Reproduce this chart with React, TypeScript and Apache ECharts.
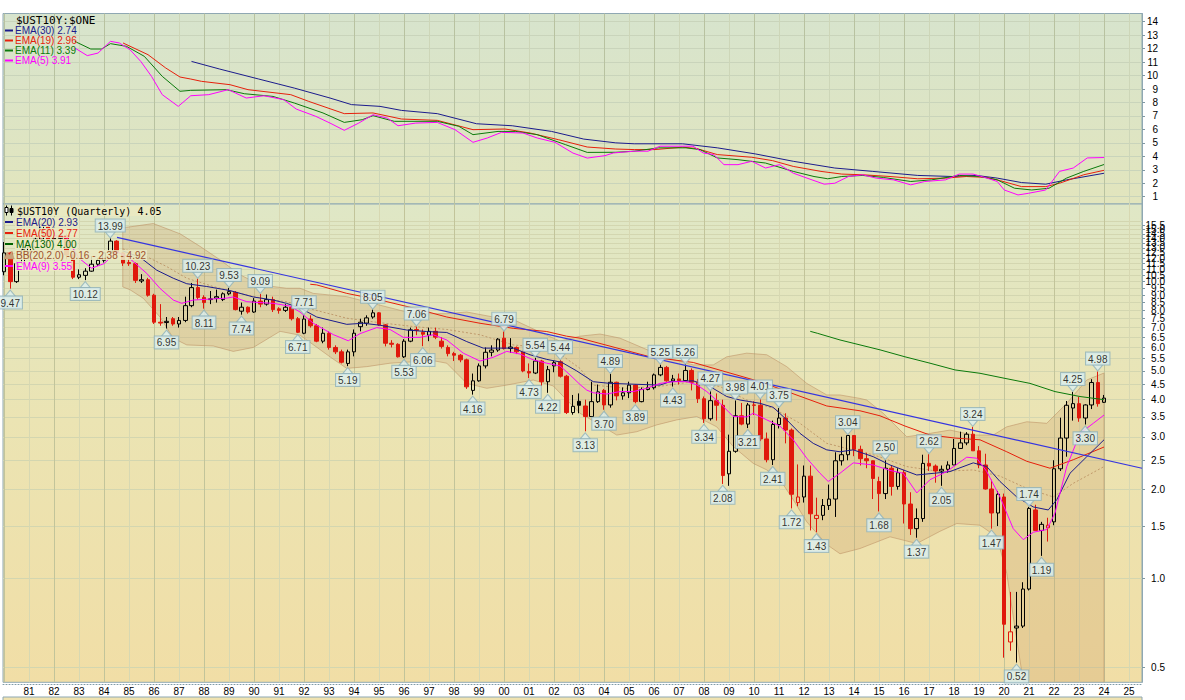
import React, { useEffect, useRef } from 'react';
import * as echarts from 'echarts';

// ---------------- data ----------------
const FIRST_YEAR = 1980; // first candle = 1980 Q1, one candle per quarter
const X_MIN = 1979.96;
const X_MAX = 2025.52;

// [open, close, low, high]
const quarterlyOHLC: number[][] = [
  [10.80, 12.50, 10.50, 13.60], [12.50, 10.00, 9.47, 12.60], [10.00, 11.50, 9.90, 11.70], [11.50, 12.80, 11.40, 13.10],
  [12.60, 13.10, 11.90, 13.30], [13.10, 13.90, 12.90, 14.20], [13.90, 15.60, 13.80, 15.84], [15.60, 13.90, 13.10, 15.80],
  [13.90, 14.00, 13.60, 14.80], [14.00, 14.30, 13.30, 14.60], [14.30, 12.30, 11.90, 14.50], [12.30, 10.35, 10.20, 12.40],
  [10.35, 10.55, 10.20, 11.00], [10.50, 10.85, 10.12, 11.10], [10.85, 11.45, 10.80, 12.20], [11.45, 11.80, 11.30, 12.00],
  [11.80, 12.50, 11.60, 12.60], [12.60, 13.70, 12.40, 13.99], [13.70, 12.50, 12.30, 13.80], [12.50, 11.55, 11.30, 12.60],
  [11.60, 11.50, 11.30, 12.00], [11.50, 10.10, 9.90, 11.60], [10.05, 10.15, 9.90, 10.60], [10.15, 9.00, 8.90, 10.30],
  [9.00, 7.30, 7.20, 9.10], [7.30, 7.25, 7.10, 8.40], [7.28, 7.35, 6.95, 7.60], [7.50, 7.20, 7.10, 7.60],
  [7.20, 7.40, 7.00, 7.60], [7.40, 8.30, 7.30, 8.90], [8.30, 9.55, 8.20, 9.90], [9.55, 8.85, 8.70, 10.23],
  [8.85, 8.50, 8.11, 9.00], [8.70, 8.75, 8.40, 9.30], [8.80, 8.90, 8.50, 9.40], [8.70, 9.10, 8.60, 9.20],
  [9.10, 9.25, 9.00, 9.53], [9.20, 8.05, 8.00, 9.30], [7.95, 8.20, 7.74, 8.50], [8.20, 7.90, 7.80, 8.25],
  [7.90, 8.60, 7.85, 8.80], [8.60, 8.40, 8.20, 9.09], [8.40, 8.70, 8.30, 9.05], [8.70, 8.05, 7.90, 8.90],
  [8.10, 8.00, 7.80, 8.20], [8.00, 8.20, 7.90, 8.40], [8.20, 7.50, 7.40, 8.30], [7.50, 6.75, 6.71, 7.60],
  [6.70, 7.48, 6.65, 7.71], [7.48, 7.10, 7.00, 7.70], [7.10, 6.30, 6.25, 7.20], [6.30, 6.70, 6.20, 7.00],
  [6.70, 6.00, 5.90, 6.80], [6.00, 5.80, 5.70, 6.10], [5.80, 5.35, 5.30, 5.90], [5.30, 5.80, 5.19, 5.90],
  [5.80, 6.70, 5.60, 6.90], [7.05, 7.30, 6.80, 7.50], [7.25, 7.55, 7.10, 7.70], [7.60, 7.85, 7.50, 8.05],
  [7.85, 7.15, 7.10, 7.90], [7.15, 6.20, 6.05, 7.20], [6.20, 6.15, 6.00, 6.35], [6.15, 5.58, 5.55, 6.20],
  [5.58, 6.30, 5.53, 6.40], [6.30, 6.88, 6.25, 7.00], [6.90, 6.85, 6.60, 7.06], [6.75, 6.65, 6.06, 6.90],
  [6.60, 6.80, 6.30, 7.00], [6.80, 6.50, 6.40, 7.00], [6.30, 6.05, 5.95, 6.50], [6.00, 5.72, 5.60, 6.10],
  [5.72, 5.65, 5.40, 5.80], [5.65, 5.45, 5.35, 5.70], [5.45, 4.42, 4.35, 5.50], [4.30, 4.63, 4.16, 4.90],
  [4.63, 5.20, 4.60, 5.30], [5.20, 5.78, 5.10, 6.00], [5.78, 5.88, 5.60, 6.10], [5.88, 6.40, 5.80, 6.45],
  [6.45, 5.95, 5.90, 6.79], [5.95, 6.02, 5.75, 6.45], [6.00, 5.80, 5.70, 6.05], [5.80, 5.00, 4.95, 5.85],
  [4.98, 4.92, 4.73, 5.30], [4.92, 5.40, 4.88, 5.54], [5.40, 4.60, 4.45, 5.45], [4.60, 5.05, 4.22, 5.20],
  [5.20, 5.33, 4.95, 5.42], [5.37, 4.80, 4.75, 5.44], [4.80, 3.62, 3.58, 4.85], [3.62, 3.80, 3.56, 4.15],
  [3.95, 3.83, 3.60, 4.20], [3.81, 3.51, 3.13, 4.00], [3.51, 3.94, 3.50, 4.60], [3.94, 4.25, 3.90, 4.50],
  [4.30, 3.84, 3.70, 4.35], [3.84, 4.58, 3.76, 4.89], [4.58, 4.12, 3.98, 4.60], [4.12, 4.22, 4.00, 4.40],
  [4.22, 4.48, 4.05, 4.60], [4.48, 3.94, 3.89, 4.50], [3.94, 4.33, 3.92, 4.40], [4.33, 4.39, 4.30, 4.60],
  [4.39, 4.85, 4.33, 4.90], [4.85, 5.14, 4.80, 5.25], [5.14, 4.63, 4.60, 5.20], [4.63, 4.70, 4.43, 4.85],
  [4.70, 4.64, 4.50, 4.90], [4.64, 5.02, 4.60, 5.26], [5.02, 4.58, 4.30, 5.10], [4.58, 4.03, 3.90, 4.70],
  [4.03, 3.45, 3.34, 4.10], [3.45, 3.97, 3.40, 4.27], [3.97, 3.83, 3.40, 4.20], [3.83, 2.22, 2.08, 4.00],
  [2.25, 2.68, 2.05, 3.05], [2.68, 3.53, 2.65, 3.98], [3.53, 3.31, 3.28, 3.90], [3.31, 3.84, 3.21, 3.90],
  [3.84, 3.83, 3.55, 3.95], [3.83, 2.95, 2.90, 4.01], [2.95, 2.51, 2.46, 3.10], [2.51, 3.30, 2.41, 3.40],
  [3.30, 3.47, 3.20, 3.75], [3.47, 3.16, 2.85, 3.60], [3.16, 1.92, 1.72, 3.20], [1.80, 1.88, 1.75, 2.42],
  [1.88, 2.21, 1.80, 2.40], [2.21, 1.65, 1.45, 2.40], [1.59, 1.63, 1.43, 1.87], [1.63, 1.76, 1.57, 1.85],
  [1.76, 1.85, 1.70, 2.07], [1.85, 2.49, 1.61, 2.66], [2.49, 2.61, 2.40, 3.00], [2.61, 3.03, 2.50, 3.04],
  [3.03, 2.72, 2.58, 3.04], [2.72, 2.53, 2.40, 2.80], [2.53, 2.49, 2.35, 2.65], [2.49, 2.17, 1.85, 2.45],
  [2.12, 1.93, 1.68, 2.20], [1.93, 2.35, 1.85, 2.50], [2.35, 2.04, 1.90, 2.40], [2.04, 2.27, 1.99, 2.35],
  [2.27, 1.78, 1.53, 2.32], [1.78, 1.47, 1.40, 1.95], [1.47, 1.59, 1.37, 1.72], [1.59, 2.44, 1.55, 2.61],
  [2.44, 2.39, 2.30, 2.62], [2.39, 2.30, 2.10, 2.42], [2.30, 2.33, 2.05, 2.40], [2.33, 2.41, 2.27, 2.48],
  [2.41, 2.74, 2.41, 2.95], [2.74, 2.86, 2.73, 3.12], [2.86, 3.06, 2.81, 3.11], [3.06, 2.69, 2.69, 3.24],
  [2.69, 2.41, 2.35, 2.79], [2.41, 2.00, 1.99, 2.63], [2.00, 1.66, 1.47, 2.15], [1.66, 1.92, 1.50, 1.97],
  [1.88, 0.70, 0.54, 1.93], [0.61, 0.66, 0.57, 0.90], [0.68, 0.69, 0.52, 0.90], [0.69, 0.92, 0.68, 0.97],
  [0.92, 1.72, 0.91, 1.74], [1.70, 1.45, 1.45, 1.77], [1.45, 1.52, 1.19, 1.55], [1.48, 1.51, 1.33, 1.60],
  [1.55, 2.34, 1.51, 2.50], [2.34, 2.97, 2.30, 3.48], [2.97, 3.83, 2.57, 3.96], [3.75, 3.88, 3.40, 4.25],
  [3.88, 3.47, 3.37, 4.09], [3.47, 3.84, 3.30, 3.86], [3.84, 4.57, 3.72, 4.69], [4.57, 3.88, 3.79, 4.98],
  [3.92, 4.05, 3.90, 4.15],
];

// annotated highs / lows: [year, value]
const highMarks: number[][] = [
  [1984.25, 13.99], [1987.75, 10.23], [1989.0, 9.53], [1990.25, 9.09], [1992.0, 7.71], [1994.75, 8.05],
  [1996.5, 7.06], [2000.0, 6.79], [2001.25, 5.54], [2002.25, 5.44], [2004.25, 4.89], [2006.25, 5.25],
  [2007.25, 5.26], [2008.25, 4.27], [2009.25, 3.98], [2010.25, 4.01], [2011.0, 3.75], [2013.75, 3.04],
  [2015.25, 2.50], [2017.0, 2.62], [2018.75, 3.24], [2021.0, 1.74], [2022.75, 4.25], [2023.75, 4.98],
];
const lowMarks: number[][] = [
  [1980.25, 9.47], [1983.25, 10.12], [1986.5, 6.95], [1988.0, 8.11], [1989.5, 7.74], [1991.75, 6.71],
  [1993.75, 5.19], [1996.0, 5.53], [1996.75, 6.06], [1998.75, 4.16], [2001.0, 4.73], [2001.75, 4.22],
  [2003.25, 3.13], [2004.0, 3.70], [2005.25, 3.89], [2006.75, 4.43], [2008.0, 3.34], [2008.75, 2.08],
  [2009.75, 3.21], [2010.75, 2.41], [2011.5, 1.72], [2012.5, 1.43], [2015.0, 1.68], [2016.5, 1.37],
  [2017.5, 2.05], [2019.5, 1.47], [2020.5, 0.52], [2021.5, 1.19], [2023.25, 3.30],
];

const trendLine: number[][] = [[1984.52, 14.1], [2025.52, 2.35]];

const ema9: number[][] = [
  [1982.0, 14.3], [1982.5, 14.1], [1983.0, 12.0], [1983.5, 11.1], [1984.0, 11.5], [1984.5, 12.6], [1984.9, 12.2],
  [1985.17, 11.69], [1985.71, 10.66], [1986.24, 9.49], [1986.77, 8.67], [1987.11, 8.45], [1987.57, 8.67],
  [1988.11, 8.72], [1988.91, 8.8], [1989.17, 8.88], [1989.71, 8.56], [1990.24, 8.5], [1990.77, 8.45],
  [1991.44, 8.27], [1991.84, 7.9], [1992.37, 7.24], [1993.17, 6.63], [1993.77, 6.32], [1994.24, 6.68],
  [1994.91, 7.0], [1995.44, 6.9], [1995.97, 6.49], [1996.64, 6.49], [1997.17, 6.62], [1997.71, 6.36],
  [1998.37, 5.74], [1999.04, 5.4], [1999.57, 5.56], [2000.11, 5.82], [2000.64, 5.7], [2001.17, 5.45],
  [2001.71, 5.31], [2002.24, 5.2], [2002.64, 4.85], [2003.04, 4.5], [2003.31, 4.31], [2003.57, 4.22],
  [2004.11, 4.18], [2004.64, 4.26], [2005.17, 4.26], [2005.71, 4.37], [2006.24, 4.54], [2006.77, 4.6],
  [2007.31, 4.6], [2007.71, 4.49], [2008.11, 4.26], [2008.64, 3.89], [2009.17, 3.51], [2009.71, 3.5],
  [2009.97, 3.6], [2010.51, 3.42], [2011.04, 3.26], [2011.57, 2.93], [2012.11, 2.54], [2012.64, 2.26],
  [2012.97, 2.12], [2013.44, 2.26], [2013.97, 2.45], [2014.77, 2.41], [2015.44, 2.31], [2015.97, 2.26],
  [2016.51, 1.94], [2017.04, 2.15], [2017.71, 2.29], [2018.51, 2.56], [2018.91, 2.54], [2019.31, 2.29],
  [2019.84, 1.88], [2020.37, 1.47], [2020.77, 1.35], [2021.17, 1.43], [2021.71, 1.46], [2022.04, 1.66],
  [2022.51, 2.38], [2023.04, 3.08], [2023.57, 3.33], [2024.0, 3.55],
];
const ema20: number[][] = [
  [1984.75, 12.7], [1985.2, 12.3], [1985.57, 11.85], [1986.11, 10.93], [1986.77, 10.27], [1987.31, 9.84],
  [1988.11, 9.63], [1989.04, 9.33], [1989.97, 8.88], [1990.77, 8.67], [1991.3, 8.45], [1991.84, 8.15],
  [1992.51, 7.6], [1993.71, 7.18], [1994.37, 7.24], [1995.04, 7.13], [1996.11, 6.87], [1996.91, 6.79],
  [1997.71, 6.74], [1998.51, 6.28], [1999.17, 5.97], [2000.37, 5.97], [2001.04, 5.67], [2001.71, 5.47],
  [2002.3, 5.35], [2002.91, 5.0], [2003.57, 4.6], [2004.24, 4.54], [2006.24, 4.48], [2006.64, 4.6],
  [2007.57, 4.63], [2008.24, 4.43], [2008.91, 4.1], [2009.44, 3.99], [2010.24, 3.89], [2010.77, 3.77],
  [2011.31, 3.42], [2011.84, 3.08], [2012.37, 2.85], [2012.91, 2.71], [2013.44, 2.67], [2013.97, 2.71],
  [2014.77, 2.57], [2015.44, 2.41], [2016.51, 2.23], [2017.44, 2.27], [2017.84, 2.29], [2018.77, 2.45],
  [2019.31, 2.38], [2019.84, 2.12], [2020.51, 1.88], [2021.17, 1.74], [2021.77, 1.70], [2022.11, 1.84],
  [2022.64, 2.26], [2023.31, 2.57], [2024.0, 2.93],
];
const ema50: number[][] = [
  [1992.25, 9.8], [1992.51, 9.75], [1993.71, 9.13], [1995.04, 8.67], [1996.37, 8.15], [1997.71, 7.6],
  [1999.04, 7.24], [2000.37, 6.96], [2001.71, 6.79], [2002.5, 6.55], [2003.04, 6.45], [2005.84, 5.58],
  [2007.57, 5.34], [2010.24, 4.6], [2012.91, 3.81], [2014.24, 3.67], [2015.04, 3.53], [2016.04, 3.26],
  [2017.04, 3.04], [2018.04, 2.97], [2019.04, 2.93], [2020.11, 2.67], [2020.91, 2.48], [2021.84, 2.35],
  [2022.77, 2.51], [2024.0, 2.77],
];
const ma130: number[][] = [
  [2012.25, 6.8], [2012.53, 6.70], [2013.44, 6.36], [2015.04, 5.89], [2016.04, 5.58], [2017.04, 5.31],
  [2018.04, 5.04], [2019.04, 4.91], [2020.04, 4.72], [2021.04, 4.54], [2022.04, 4.26], [2023.04, 4.10],
  [2024.0, 4.00],
];
const bbUpper: number[][] = [
  [1984.75, 15.2], [1985.04, 15.3], [1985.97, 15.7], [1987.04, 14.5], [1987.84, 13.15], [1988.64, 11.85],
  [1989.44, 10.55], [1990.24, 9.75], [1991.31, 9.5], [1991.84, 9.5], [1992.37, 9.13], [1993.71, 8.9],
  [1995.04, 8.33], [1996.37, 7.8], [1997.71, 7.8], [1998.51, 7.9], [1999.57, 7.6], [2000.37, 7.45],
  [2001.71, 6.6], [2002.24, 6.3], [2003.04, 6.55], [2003.84, 6.66], [2004.64, 6.45], [2005.57, 5.97],
  [2006.51, 5.53], [2007.57, 5.24], [2008.37, 5.24], [2008.91, 5.58], [2009.71, 5.74], [2010.51, 5.67],
  [2011.31, 5.17], [2012.11, 4.54], [2012.91, 4.15], [2013.44, 4.15], [2014.24, 4.04], [2014.51, 3.99],
  [2015.17, 3.6], [2016.11, 3.0], [2017.04, 3.08], [2017.84, 3.16], [2018.77, 3.04], [2019.57, 3.04],
  [2020.11, 3.24], [2020.91, 3.37], [2021.71, 3.33], [2022.51, 3.89], [2023.31, 4.66], [2024.0, 4.92],
];
const bbLower: number[][] = [
  [1984.75, 9.6], [1985.04, 9.39], [1985.57, 8.79], [1986.24, 7.6], [1986.77, 6.45], [1987.31, 6.12],
  [1988.37, 6.07], [1989.17, 5.82], [1989.97, 6.0], [1991.04, 6.8], [1991.84, 6.6], [1992.11, 6.36],
  [1993.04, 5.58], [1993.71, 5.1], [1994.51, 5.17], [1995.44, 5.31], [1996.37, 5.37], [1997.04, 5.44],
  [1997.71, 5.31], [1998.51, 4.54], [1999.31, 4.37], [2000.11, 4.48], [2001.17, 4.66], [2001.97, 4.45],
  [2002.5, 4.0], [2003.04, 3.6], [2003.84, 3.29], [2004.51, 3.04], [2005.31, 3.12], [2006.11, 3.29],
  [2006.91, 3.42], [2007.71, 3.51], [2008.51, 3.24], [2009.17, 2.78], [2009.97, 2.44], [2010.51, 2.32],
  [2011.04, 2.15], [2011.57, 1.84], [2012.11, 1.55], [2012.51, 1.42], [2012.91, 1.3], [2013.44, 1.21],
  [2014.24, 1.26], [2015.44, 1.38], [2016.51, 1.31], [2017.44, 1.44], [2018.11, 1.53], [2019.04, 1.51],
  [2019.71, 1.38], [2020.11, 1.04], [2020.51, 0.62], [2020.77, 0.45], [2021.0, 0.3], [2024.0, 0.3],
];
const bbMiddle: number[][] = [
  [1984.75, 12.9], [1985.57, 12.3], [1986.51, 11.24], [1987.31, 10.27], [1988.37, 9.63], [1989.44, 9.13],
  [1990.51, 8.72], [1991.3, 8.56], [1992.37, 8.05], [1993.71, 7.53], [1995.04, 7.27], [1996.37, 7.06],
  [1997.71, 6.9], [1999.04, 6.62], [2000.37, 6.12], [2001.71, 5.97], [2002.24, 5.7], [2003.04, 5.1],
  [2003.57, 4.48], [2004.91, 4.37], [2006.24, 4.44], [2007.57, 4.6], [2008.64, 4.43], [2009.71, 3.99],
  [2010.77, 3.74], [2011.84, 3.33], [2012.91, 2.85], [2014.24, 2.67], [2014.77, 2.61], [2016.11, 2.38],
  [2017.44, 2.29], [2018.77, 2.32], [2019.84, 2.21], [2020.91, 2.01], [2021.97, 1.88], [2022.77, 2.09],
  [2024.0, 2.38],
];

// top panel ($UST10Y:$ONE) EMAs: [year, value]
const topEma30: number[][] = [
  [1987.5, 11.05], [1988.61, 10.49], [1990.19, 9.74], [1991.61, 9.07], [1993.04, 8.33], [1993.9, 7.84],
  [1995.04, 7.71], [1995.9, 7.41], [1997.33, 7.17], [1998.9, 6.42], [2000.33, 6.27], [2001.9, 5.85],
  [2003.19, 5.28], [2004.47, 5.0], [2005.21, 4.93], [2007.14, 4.93], [2008.53, 4.63], [2010.05, 4.18],
  [2011.57, 3.63], [2013.23, 3.13], [2014.75, 2.88], [2016.55, 2.58], [2017.93, 2.50], [2018.9, 2.58],
  [2019.73, 2.38], [2020.7, 2.05], [2021.67, 1.93], [2022.5, 2.25], [2024.0, 2.74],
];
const topEma19: number[][] = [
  [1984.76, 12.42], [1985.76, 11.55], [1986.47, 10.56], [1987.04, 9.89], [1987.47, 9.74], [1987.9, 9.57],
  [1989.04, 9.32], [1989.76, 8.95], [1991.47, 8.58], [1992.19, 8.08], [1993.61, 7.17], [1994.76, 7.22],
  [1995.9, 6.77], [1997.33, 6.67], [1998.76, 5.98], [2000.04, 6.03], [2001.04, 5.73], [2002.19, 5.23],
  [2003.33, 4.69], [2004.47, 4.54], [2005.21, 4.50], [2006.04, 4.50], [2007.14, 4.68], [2007.70, 4.58],
  [2008.53, 4.13], [2009.91, 3.93], [2010.74, 3.68], [2011.57, 3.25], [2012.68, 2.88], [2013.51, 2.68],
  [2014.34, 2.63], [2015.44, 2.50], [2016.55, 2.33], [2017.66, 2.38], [2018.49, 2.50], [2019.32, 2.43],
  [2019.87, 2.18], [2020.70, 1.75], [2021.67, 1.75], [2022.22, 2.00], [2023.19, 2.63], [2024.0, 2.96],
];
const topEma11: number[][] = [
  [1982.83, 12.54], [1983.47, 11.97], [1983.9, 11.97], [1984.26, 12.37], [1984.9, 12.17], [1985.61, 11.43],
  [1986.33, 9.94], [1987.04, 8.83], [1987.47, 8.90], [1988.9, 8.95], [1989.61, 8.65], [1990.76, 8.45],
  [1991.61, 7.96], [1992.76, 7.22], [1993.61, 6.52], [1994.33, 6.72], [1994.76, 7.02], [1995.61, 6.60],
  [1997.33, 6.60], [1998.19, 6.23], [1998.76, 5.61], [1999.76, 5.85], [2000.47, 5.85], [2001.33, 5.61],
  [2002.47, 4.86], [2003.33, 4.29], [2004.47, 4.3], [2005.21, 4.38], [2006.18, 4.63], [2007.28, 4.63],
  [2007.84, 4.50], [2008.53, 3.88], [2009.36, 3.75], [2010.46, 3.50], [2011.57, 2.88], [2012.40, 2.50],
  [2012.95, 2.33], [2013.51, 2.50], [2014.34, 2.58], [2015.17, 2.43], [2016.27, 2.13], [2017.10, 2.25],
  [2018.21, 2.58], [2019.04, 2.50], [2019.73, 2.25], [2020.42, 1.63], [2021.11, 1.50], [2021.80, 1.63],
  [2022.50, 2.38], [2023.19, 2.88], [2024.0, 3.39],
];
const topEma5: number[][] = [
  [1982.83, 12.05], [1983.33, 11.48], [1983.76, 11.67], [1984.26, 12.54], [1984.61, 12.42], [1985.04, 11.92],
  [1985.47, 11.05], [1985.9, 9.94], [1986.33, 8.58], [1986.97, 7.71], [1987.47, 8.50], [1988.19, 8.58],
  [1988.97, 8.95], [1989.26, 8.70], [1989.69, 8.33], [1990.4, 8.50], [1991.19, 8.21], [1991.69, 7.51],
  [1992.47, 6.97], [1993.04, 6.47], [1993.61, 5.93], [1994.19, 6.47], [1994.76, 7.09], [1995.33, 6.84],
  [1995.76, 6.27], [1996.47, 6.47], [1997.33, 6.52], [1998.04, 5.98], [1998.76, 5.04], [1999.33, 5.36],
  [1999.9, 5.78], [2000.76, 5.73], [2001.33, 5.36], [2002.04, 5.04], [2002.76, 4.24], [2003.33, 3.87],
  [2004.04, 4.05], [2004.38, 4.25], [2005.21, 4.38], [2005.76, 4.38], [2006.24, 4.75], [2007.14, 4.75],
  [2007.56, 4.75], [2007.97, 4.25], [2008.39, 4.13], [2008.80, 3.38], [2009.36, 3.38], [2009.91, 3.63],
  [2010.46, 3.13], [2011.02, 3.38], [2011.57, 2.75], [2012.12, 2.38], [2012.81, 1.93], [2013.23, 2.00],
  [2013.78, 2.50], [2014.34, 2.63], [2014.89, 2.38], [2015.58, 2.25], [2016.27, 1.88], [2016.83, 2.13],
  [2017.66, 2.25], [2018.21, 2.68], [2018.76, 2.68], [2019.32, 2.38], [2019.73, 2.13], [2020.01, 1.50],
  [2020.56, 1.13], [2020.97, 1.25], [2021.67, 1.50], [2022.22, 2.88], [2022.77, 3.13], [2023.33, 3.88],
  [2024.0, 3.91],
];

// axis ticks
const topTicks = [1, 2, 3, 4, 5, 6, 7, 8, 9, 10, 11, 12, 13, 14];
const bottomTicks = [
  0.5, 1.0, 1.5, 2.0, 2.5, 3.0, 3.5, 4.0, 4.5, 5.0, 5.5, 6.0, 6.5, 7.0, 7.5, 8.0, 8.5, 9.0, 9.5, 10.0,
  10.5, 11.0, 11.5, 12.0, 12.5, 13.0, 13.5, 14.0, 14.5, 15.0, 15.5, 16.0,
];
const yearLabels = [
  1981, 1982, 1983, 1984, 1985, 1986, 1987, 1988, 1989, 1990, 1991, 1992, 1993, 1994, 1995, 1996, 1997,
  1998, 1999, 2000, 2001, 2002, 2003, 2004, 2005, 2006, 2007, 2008, 2009, 2010, 2011, 2012, 2013, 2014,
  2015, 2016, 2017, 2018, 2019, 2020, 2021, 2022, 2023, 2024, 2025,
];
const yearGrid = [1980, ...yearLabels];

// ---------------- styles ----------------
const NAVY = '#1b1b8c';
const RED = '#e6200c';
const GREEN = '#0b7a0b';
const DKGREEN = '#006400';
const MAGENTA = '#ff00ff';
const BROWN = '#a0522d';
const TREND = '#3434e0';
const CANDLE_RED = '#e0180c';
const AXIS_C = '#8fa8b3';
const FONT = 'Liberation Sans';
const BOX_BG = '#dcefef';
const BOX_BORDER = '#8fb1ba';

const L = (v: number) => Math.log2(v);
const ident = (v: number) => v;

function lineSeries(data: number[][], color: string, xi: number, yi: number, tf: (v: number) => number, extra: any = {}) {
  return {
    type: 'line',
    xAxisIndex: xi,
    yAxisIndex: yi,
    data: data.map(([x, v]) => [x, tf(v)]),
    showSymbol: false,
    symbol: 'none',
    silent: true,
    z: extra.z != null ? extra.z : 4,
    lineStyle: { color, width: 1, ...(extra.lineStyle || {}) },
  };
}

function buildOption() {
  const candleData = quarterlyOHLC.map((q, i) => {
    const [o, c, l, h] = q;
    const prev = i > 0 ? quarterlyOHLC[i - 1][1] : o;
    const up = c >= o;
    const black = c >= prev;
    const stroke = black ? '#000000' : CANDLE_RED;
    const fill = up ? 'rgba(0,0,0,0)' : stroke;
    return {
      value: [FIRST_YEAR + i / 4, L(o), L(c), L(l), L(h)],
      itemStyle: { color: fill, color0: fill, borderColor: stroke, borderColor0: stroke, borderWidth: 1 },
    };
  });

  const markLabel = {
    show: true,
    fontSize: 10,
    fontFamily: FONT,
    color: '#000',
    backgroundColor: BOX_BG,
    borderColor: BOX_BORDER,
    borderWidth: 1,
    padding: [1, 2, 0, 2],
    lineHeight: 11,
    distance: 0,
    formatter: (p: any) => Number(p.data[2]).toFixed(2),
  };

  const axisLabelBase = { fontSize: 10, fontFamily: FONT, color: '#000', hideOverlap: false };

  const graphics: any[] = [];
  // top legend
  graphics.push({
    type: 'text', x: 16, y: 20.5, z: 100,
    style: { text: '$UST10Y:$ONE', fill: '#000', fontSize: 11, fontFamily: 'DejaVu Sans Mono', verticalAlign: 'middle' },
  });
  const topLegend = [
    ['EMA(30) 2.74', NAVY], ['EMA(19) 2.96', RED], ['EMA(11) 3.39', GREEN], ['EMA(5) 3.91', MAGENTA],
  ];
  topLegend.forEach(([t, c], k) => {
    const y = 30.5 + k * 10;
    graphics.push({ type: 'line', z: 100, shape: { x1: 5, y1: y, x2: 13, y2: y }, style: { stroke: c, lineWidth: 2 } });
    graphics.push({ type: 'text', x: 15, y, z: 100, style: { text: t, fill: c, fontSize: 10, fontFamily: FONT, verticalAlign: 'middle' } });
  });
  // bottom legend
  const legBg = 'rgba(234,233,194,0.88)';
  graphics.push({
    type: 'text', x: 16, y: 211, z: 100,
    style: { text: '$UST10Y (Quarterly) 4.05', fill: '#000', fontSize: 10, fontFamily: 'DejaVu Sans Mono', verticalAlign: 'middle', backgroundColor: legBg, padding: [0, 1] },
  });
  // tiny candle icon
  graphics.push({ type: 'line', z: 101, shape: { x1: 6.5, y1: 205.5, x2: 6.5, y2: 215.5 }, style: { stroke: '#000', lineWidth: 1 } });
  graphics.push({ type: 'rect', z: 102, shape: { x: 5, y: 207.5, width: 3, height: 5 }, style: { fill: '#fff', stroke: '#000', lineWidth: 1 } });
  graphics.push({ type: 'line', z: 101, shape: { x1: 11.5, y1: 205.5, x2: 11.5, y2: 215.5 }, style: { stroke: '#000', lineWidth: 1 } });
  graphics.push({ type: 'rect', z: 102, shape: { x: 10, y: 208.5, width: 3, height: 4 }, style: { fill: '#000', stroke: '#000', lineWidth: 1 } });
  const botLegend = [
    ['EMA(20) 2.93', NAVY], ['EMA(50) 2.77', RED], ['MA(130) 4.00', DKGREEN],
    ['BB(20,2.0) -0.16 - 2.38 - 4.92', BROWN], ['EMA(9) 3.55', MAGENTA],
  ];
  botLegend.forEach(([t, c], k) => {
    const y = 222 + k * 11;
    if (k === 3) {
      graphics.push({
        type: 'polygon', z: 101,
        shape: { points: [[4, y + 4], [7, y - 3], [9.5, y], [12, y - 4], [14, y + 4]] },
        style: { fill: '#c9a27a', stroke: '#b98c63', lineWidth: 0.5 },
      });
    } else {
      graphics.push({ type: 'line', z: 101, shape: { x1: 5, y1: y, x2: 13, y2: y }, style: { stroke: c, lineWidth: 2 } });
    }
    graphics.push({
      type: 'text', x: 15, y, z: 100,
      style: { text: t, fill: c, fontSize: 10, fontFamily: FONT, verticalAlign: 'middle', backgroundColor: legBg, padding: [0, 1] },
    });
  });
  // top sliver of the next panel
  graphics.push({
    type: 'rect', z: 0, shape: { x: 3, y: 697, width: 1139, height: 6 },
    style: { fill: '#efe2b0', stroke: AXIS_C, lineWidth: 1 },
  });

  return {
    animation: false,
    backgroundColor: '#ffffff',
    grid: [
      {
        left: 3, top: 13.5, width: 1139, height: 190.5, show: true, outerBoundsMode: 'none',
        borderColor: AXIS_C, borderWidth: 1,
        backgroundColor: { type: 'linear', x: 0, y: 0, x2: 0, y2: 1, colorStops: [{ offset: 0, color: '#d7e4cd' }, { offset: 1, color: '#e2e5bd' }] },
      },
      {
        left: 3, top: 204, width: 1139, height: 478.3, show: true, outerBoundsMode: 'none',
        borderColor: AXIS_C, borderWidth: 1,
        backgroundColor: {
          type: 'linear', x: 0, y: 0, x2: 0, y2: 1,
          colorStops: [{ offset: 0, color: '#dfe7c6' }, { offset: 0.45, color: '#ebe4b3' }, { offset: 1, color: '#f1dea6' }],
        },
      },
    ],
    xAxis: [
      {
        gridIndex: 0, type: 'value', min: X_MIN, max: X_MAX,
        axisLine: { show: false }, axisTick: { show: false, customValues: yearGrid }, axisLabel: { show: false },
        splitLine: { show: true, lineStyle: { color: ['#b8c2a0', '#cdd6b8'], width: 1 } },
      },
      {
        gridIndex: 1, type: 'value', min: X_MIN, max: X_MAX, position: 'bottom',
        axisLine: { show: false }, axisTick: { show: false, customValues: yearGrid },
        axisLabel: {
          ...axisLabelBase, show: true, margin: 4, customValues: yearLabels,
          formatter: (v: number) => String(Math.round(v) % 100).padStart(2, '0'),
        },
        splitLine: { show: true, lineStyle: { color: ['#c2c49a', '#d7d8b2'], width: 1 } },
      },
      {
        gridIndex: 1, type: 'value', min: X_MIN, max: X_MAX, position: 'bottom', offset: 2,
        axisLine: { show: true, lineStyle: { color: '#7f9aa6', type: [1, 2], width: 1 } },
        axisTick: { show: false }, axisLabel: { show: false }, splitLine: { show: false },
      },
    ],
    yAxis: [
      {
        gridIndex: 0, type: 'value', position: 'right', min: 0.4577, max: 14.609,
        axisLine: { show: true, lineStyle: { color: AXIS_C } },
        axisTick: { show: true, length: 3, customValues: topTicks, lineStyle: { color: '#7f98a3' } },
        axisLabel: { ...axisLabelBase, customValues: topTicks, align: 'right', margin: 16, formatter: (v: number) => String(Math.round(v)) },
        splitLine: { show: true, lineStyle: { color: '#c9d4bb', width: 1 } },
      },
      {
        gridIndex: 1, type: 'value', position: 'right', min: -1.1646, max: 4.1915,
        axisLine: { show: true, lineStyle: { color: AXIS_C } },
        axisTick: { show: true, length: 3, customValues: bottomTicks.map(L), lineStyle: { color: '#7f98a3' } },
        axisLabel: {
          ...axisLabelBase, customValues: bottomTicks.map(L), align: 'right', margin: 23,
          formatter: (v: number) => Math.pow(2, v).toFixed(1),
        },
        splitLine: { show: true, lineStyle: { color: '#d3d6b0', width: 1 } },
      },
    ],
    series: [
      // top panel
      lineSeries(topEma30, NAVY, 0, 0, ident),
      lineSeries(topEma19, RED, 0, 0, ident),
      lineSeries(topEma11, GREEN, 0, 0, ident),
      lineSeries(topEma5, MAGENTA, 0, 0, ident),
      // Bollinger band area
      {
        type: 'custom', xAxisIndex: 1, yAxisIndex: 1, silent: true, z: 1, clip: true,
        data: [[bbUpper[0][0], L(bbUpper[0][1])]],
        renderItem: (params: any, api: any) => {
          const up = bbUpper.map(([x, v]) => api.coord([x, L(v)]));
          const lo = bbLower.map(([x, v]) => api.coord([x, L(v)])).reverse();
          const cs = params.coordSys;
          return {
            type: 'polygon',
            shape: { points: up.concat(lo) },
            style: { fill: 'rgba(198,152,96,0.25)', stroke: 'rgba(188,142,98,0.55)', lineWidth: 1 },
            clipPath: { type: 'rect', shape: { x: cs.x, y: cs.y, width: cs.width, height: cs.height } },
          };
        },
      },
      lineSeries(bbMiddle, 'rgba(180,135,90,0.75)', 1, 1, L, { lineStyle: { type: [2, 2] }, z: 2 }),
      {
        type: 'candlestick', xAxisIndex: 1, yAxisIndex: 1, silent: true, z: 3,
        barWidth: 4,
        encode: { x: 0, y: [1, 2, 3, 4] },
        data: candleData,
      },
      lineSeries(ema50, RED, 1, 1, L),
      lineSeries(ema20, NAVY, 1, 1, L),
      lineSeries(ma130, GREEN, 1, 1, L),
      lineSeries(ema9, MAGENTA, 1, 1, L),
      lineSeries(trendLine, TREND, 1, 1, L, { lineStyle: { width: 1.2 } }),
      {
        type: 'scatter', xAxisIndex: 1, yAxisIndex: 1, silent: true, z: 6,
        data: highMarks.map(([x, v]) => [x, L(v), v]),
        symbol: 'triangle', symbolSize: [10, 6], symbolRotate: 180, symbolOffset: [0, -3.5],
        itemStyle: { color: BOX_BG, borderColor: BOX_BORDER, borderWidth: 1 },
        label: { ...markLabel, position: 'top' },
      },
      {
        type: 'scatter', xAxisIndex: 1, yAxisIndex: 1, silent: true, z: 6,
        data: lowMarks.map(([x, v]) => [x, L(v), v]),
        symbol: 'triangle', symbolSize: [10, 6], symbolOffset: [0, 4.5],
        itemStyle: { color: BOX_BG, borderColor: BOX_BORDER, borderWidth: 1 },
        label: { ...markLabel, position: 'bottom' },
      },
    ],
    graphic: graphics,
  };
}

export default function App() {
  const ref = useRef<HTMLDivElement>(null);
  useEffect(() => {
    document.body.style.margin = '0';
    const chart = echarts.init(ref.current as HTMLDivElement, undefined, { renderer: 'svg' });
    chart.setOption(buildOption() as any);
    return () => chart.dispose();
  }, []);
  return (
    <div
      ref={ref}
      style={{ position: 'absolute', left: 0, top: 0, width: 1185, height: 700, background: '#ffffff' }}
    />
  );
}
